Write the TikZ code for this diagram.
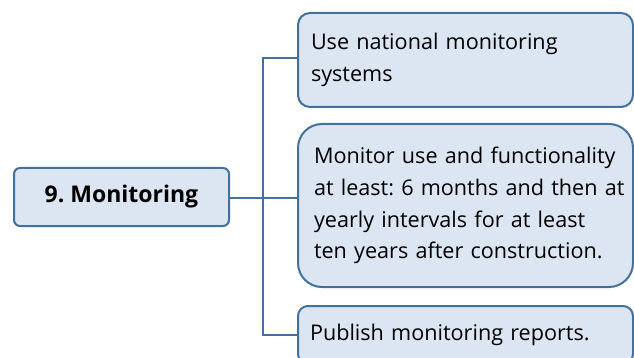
\documentclass[tikz,border=0pt]{standalone}
\usepackage{fontspec}
\setmainfont{Open Sans}
\frenchspacing
\hbadness=10000 \hfuzz=100pt
\definecolor{boxfill}{RGB}{220,230,242}
\definecolor{boxline}{RGB}{65,113,156}
\begin{document}
\begin{tikzpicture}[x=1pt,y=-1pt,
  box/.style={draw=boxline,line width=2pt,fill=boxfill,anchor=north west,inner ysep=0pt,align=left,font=\fontsize{21.6}{31.8}\selectfont},
  conn/.style={draw=boxline,line width=2pt}]
\clip (0,0) rectangle (634,358);
\fill[white] (0,0) rectangle (634,358);
\node[box,rounded corners=6pt,minimum width=215pt,minimum height=58pt,align=center,inner xsep=0pt,font=\bfseries\fontsize{23}{26}\selectfont] (main) at (13,167) {9. Monitoring};
\node[box,rounded corners=12pt,minimum width=335pt,minimum height=94pt,inner xsep=13pt,text width=309pt] (b1) at (297,12) {\mbox{Use national monitoring}\\\mbox{systems}};
\node[box,rounded corners=24pt,minimum width=335pt,minimum height=163pt,inner xsep=16pt,text width=303pt] (b2) at (297,123) {\mbox{Monitor use and functionality}\\\mbox{at least: 6 months and then at}\\\mbox{yearly intervals for at least}\\\mbox{ten years after construction.}};
\node[box,rounded corners=10pt,minimum width=335pt,minimum height=58pt,inner xsep=12pt,text width=311pt] (b3) at (297,305) {\mbox{Publish monitoring reports.}};
\coordinate (j) at (263,198);
\draw[conn] (main.east |- j) -- (b2.west |- j);
\draw[conn] (b1.west |- 0,58) -| (j) |- (b3.west |- 0,335);
\end{tikzpicture}
\end{document}
